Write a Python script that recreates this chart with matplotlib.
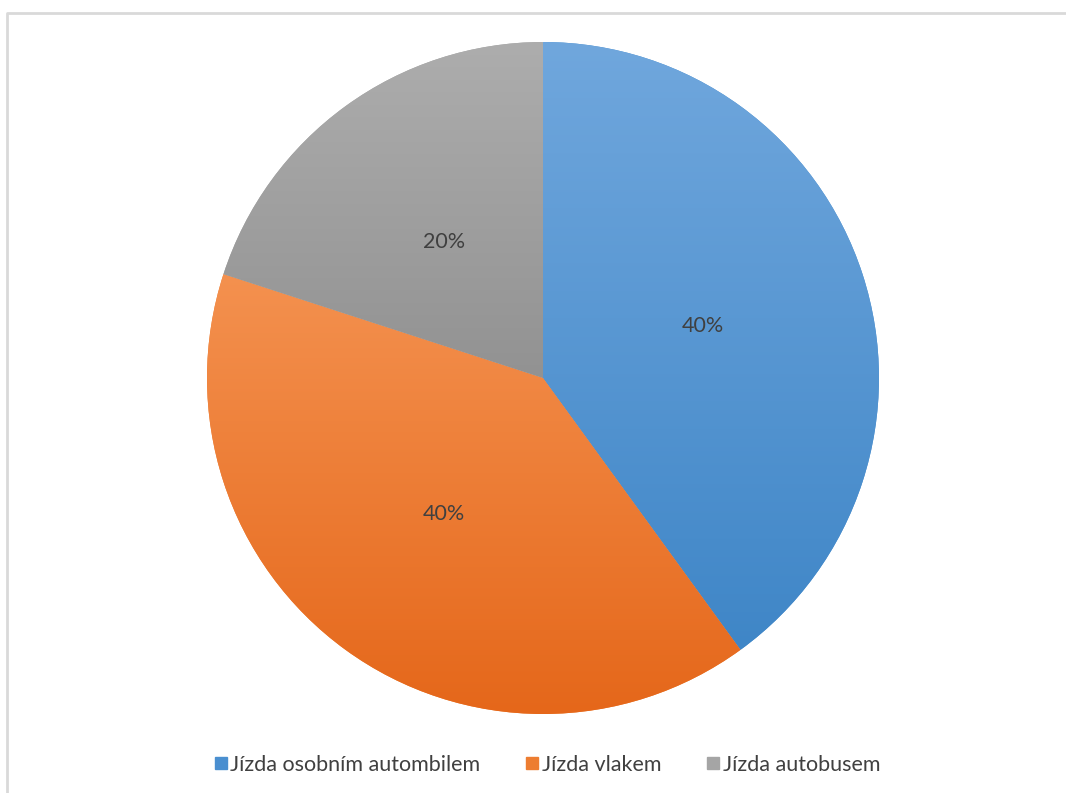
import numpy as np
import matplotlib
matplotlib.use("Agg")
import matplotlib.pyplot as plt
from matplotlib.colors import LinearSegmentedColormap
from matplotlib.lines import Line2D

# data
labels = ["Jízda osobním autombilem", "Jízda vlakem", "Jízda autobusem"]
values = [40, 40, 20]
top_colors = ["#70A7DD", "#F4914F", "#ADADAD"]
bottom_colors = ["#3F86C7", "#E5671A", "#929292"]
legend_colors = ["#4A8FD0", "#ED7D31", "#A5A5A5"]

plt.rcParams['font.family'] = ['Lato', 'DejaVu Sans']

fig = plt.figure(figsize=(10.66, 7.93), dpi=100)
ax = fig.add_axes([0, 0, 1, 1])

wedges, texts, autotexts = ax.pie(values, center=(543, 415), radius=336,
                                  startangle=90, counterclock=False,
                                  autopct='%1.0f%%', pctdistance=0.5,
                                  colors=legend_colors, frame=True,
                                  textprops=dict(color='#404040', fontsize=15.5))

# gradient fill on each slice (light at top, darker at bottom)
grad = np.linspace(0, 1, 256).reshape(-1, 1)
for w, c_top, c_bot in zip(wedges, top_colors, bottom_colors):
    ext = w.get_path().get_extents()
    cmap = LinearSegmentedColormap.from_list('g', [c_bot, c_top])
    im = ax.imshow(grad, cmap=cmap, origin='lower', aspect='auto',
                   extent=[ext.x0, ext.x1, ext.y0, ext.y1], zorder=1.5)
    im.set_clip_path(w)
for t in autotexts:
    t.set_zorder(3)

ax.set_xlim(0, 1066)
ax.set_ylim(0, 793)
ax.axis('off')

# chart border (top and left visible)
ax.plot([7, 7, 1066], [0, 780, 780], color='#D9D9D9', lw=2, zorder=0)

handles = [Line2D([], [], marker='s', linestyle='none', markersize=8,
                  markerfacecolor=c, markeredgecolor=c) for c in legend_colors]
fig.legend(handles, labels, loc='center', bbox_to_anchor=(546 / 1066, 1 - 765 / 793),
           ncol=3, frameon=False, fontsize=15.5, labelcolor='#404040',
           handletextpad=0.05, columnspacing=2.0, handlelength=0.8)

fig.savefig('out.png', dpi=100)
